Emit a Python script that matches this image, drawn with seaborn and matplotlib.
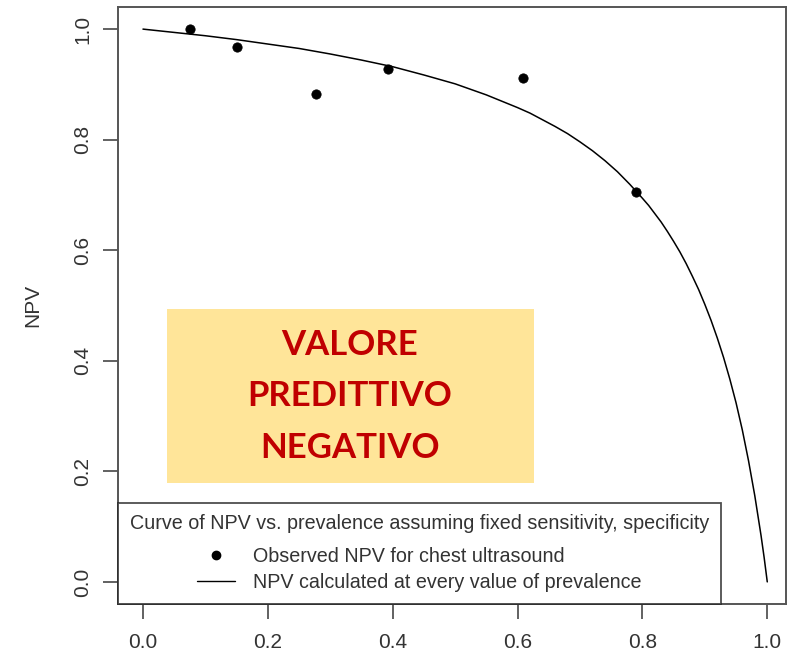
import numpy as np
import pandas as pd
import seaborn as sns
import matplotlib
matplotlib.use("Agg")
import matplotlib.pyplot as plt
from matplotlib.lines import Line2D
from matplotlib.patches import Rectangle

# observed NPV points
obs_prev = [0.075, 0.150, 0.277, 0.393, 0.608, 0.790]
obs_npv = [1.000, 0.968, 0.883, 0.927, 0.912, 0.706]

# NPV curve over prevalence
curve_prev = [0.00, 0.05, 0.10, 0.15, 0.20, 0.25, 0.30, 0.35, 0.40, 0.45, 0.50,
              0.55, 0.60, 0.62, 0.64, 0.66, 0.68, 0.70, 0.72, 0.74, 0.76, 0.78,
              0.80, 0.81, 0.82, 0.83, 0.84, 0.85, 0.86, 0.87, 0.88, 0.89, 0.90,
              0.91, 0.92, 0.93, 0.94, 0.95, 0.96, 0.97, 0.98, 0.99, 0.995, 1.00]
curve_npv = [1.000, 0.994, 0.988, 0.981, 0.973, 0.965, 0.955, 0.944, 0.932, 0.917, 0.901,
             0.881, 0.858, 0.848, 0.836, 0.824, 0.811, 0.796, 0.780, 0.762, 0.742, 0.719,
             0.694, 0.681, 0.666, 0.651, 0.634, 0.616, 0.597, 0.576, 0.553, 0.529, 0.502,
             0.473, 0.441, 0.406, 0.367, 0.324, 0.275, 0.219, 0.156, 0.084, 0.044, 0.000]

x_ticks = [0.0, 0.2, 0.4, 0.6, 0.8, 1.0]
y_ticks = [0.0, 0.2, 0.4, 0.6, 0.8, 1.0]

legend_title = "Curve of NPV vs. prevalence assuming fixed sensitivity, specificity"
legend_labels = ["Observed NPV for chest ultrasound", "NPV calculated at every value of prevalence"]
box_lines = ["VALORE", "PREDITTIVO", "NEGATIVO"]

obs = pd.DataFrame({"prev": obs_prev, "npv": obs_npv})
curve = pd.DataFrame({"prev": curve_prev, "npv": curve_npv})

sns.set_style("white")
plt.rcParams["font.family"] = ["Liberation Sans", "DejaVu Sans"]

W, H = 788, 654
fig = plt.figure(figsize=(W / 100, H / 100), dpi=100)
ax = fig.add_axes([118 / W, (H - 604) / H, (786 - 118) / W, (604 - 7) / H])

sns.lineplot(data=curve, x="prev", y="npv", ax=ax, color="black", linewidth=1.1, zorder=2)
sns.scatterplot(data=obs, x="prev", y="npv", ax=ax, color="black", s=45, edgecolor="black", zorder=3)

ax.set_xlim(-0.04, 1.03)
ax.set_ylim(-0.04, 1.04)
ax.set_xticks(x_ticks)
ax.set_yticks(y_ticks)
ax.set_xticklabels([f"{v:.1f}" for v in x_ticks])
ax.set_yticklabels([f"{v:.1f}" for v in y_ticks], rotation=90, va="center")
ax.tick_params(axis="both", direction="out", length=11, width=1.3, color="#555555",
               labelsize=15, labelcolor="#333333", bottom=True, left=True)
ax.tick_params(axis="x", pad=10)
ax.tick_params(axis="y", pad=7.7)
ax.set_xlabel("")
ax.set_ylabel("NPV", fontsize=15, color="#333333", labelpad=22)
for s in ax.spines.values():
    s.set_color("#555555")
    s.set_linewidth(1.4)

handles = [Line2D([], [], marker="o", linestyle="none", color="black", markersize=6),
           Line2D([], [], color="black", linewidth=1.0)]
leg = ax.legend(handles, legend_labels, title=legend_title, loc="lower left",
                bbox_to_anchor=(0, 0), borderaxespad=0, frameon=True, fancybox=False,
                fontsize=14.2, title_fontsize=14.2, handlelength=1.93, handletextpad=0.91,
                labelspacing=0.35, borderpad=0.6)
leg._legend_box.sep = 10
leg.get_frame().set_edgecolor("#222222")
leg.get_frame().set_linewidth(1.3)
for t in leg.get_texts() + [leg.get_title()]:
    t.set_color("#333333")

# yellow label box on top of the plot
fig.patches.append(Rectangle((167 / W, (H - 483) / H), (534 - 167) / W, (483 - 309) / H,
                             transform=fig.transFigure, facecolor="#FFE599", edgecolor="none", zorder=5))
for i, line in enumerate(box_lines):
    fig.text(350 / W, (H - (345 + 51.5 * i)) / H, line, ha="center", va="center",
             fontsize=25, fontweight="bold", color="#C00000", family=["Lato", "DejaVu Sans"], zorder=6)

fig.savefig("out.png", dpi=100)
